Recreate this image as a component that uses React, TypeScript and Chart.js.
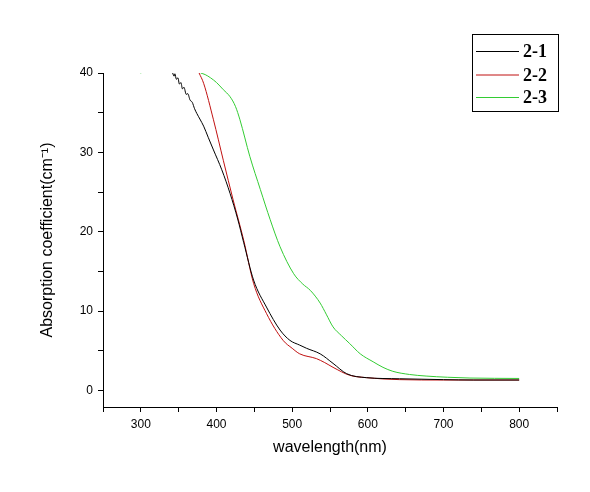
import React, { useEffect, useRef } from "react";
import { Chart, registerables } from "chart.js";

Chart.register(...registerables);

const seriesLabels = ["2-1", "2-2", "2-3"];
const seriesColors = ["#000000", "#c01010", "#33cc33"];

const wl21 = [342, 344, 345, 347, 349, 351, 353, 355, 357, 360, 362, 365, 368, 371, 374, 378, 383, 389, 396, 407, 418, 428, 436, 449, 466, 484, 497, 510, 519, 537, 554, 572, 598, 642, 700, 740, 800];
const ab21 = [40, 39.6, 39.9, 39.2, 39.4, 38.6, 38.8, 38.0, 38.2, 37.3, 37.4, 36.6, 36.3, 35.5, 34.9, 34.2, 33.3, 31.9, 30.3, 27.8, 24.8, 21.6, 18.6, 13.9, 10.5, 7.6, 6.3, 5.7, 5.3, 4.6, 3.4, 2.1, 1.6, 1.46, 1.35, 1.3, 1.3];

const wl22 = [377, 383, 396, 409, 422, 436, 449, 466, 488, 500, 510, 532, 543, 554, 576, 598, 642, 700, 800];
const ab22 = [40, 38.7, 34.1, 29.0, 24.0, 18.9, 13.5, 9.7, 6.3, 5.3, 4.6, 4.0, 3.5, 2.9, 1.9, 1.6, 1.35, 1.3, 1.3];

const wl23 = [299.5, 300.5, 302, 379, 385, 392, 400, 409, 418, 425, 431, 444, 458, 471, 484, 502, 514, 524, 537, 545, 554, 565, 576, 590, 607, 620, 633, 655, 677, 705, 735, 800];
const ab23 = [40, 40, null, 40, 39.8, 39.4, 38.8, 37.9, 37.0, 35.8, 34.1, 29.5, 25.3, 21.5, 18.1, 14.7, 13.4, 12.6, 11.0, 9.6, 8.0, 6.9, 5.9, 4.6, 3.6, 2.9, 2.4, 2.0, 1.8, 1.65, 1.55, 1.5];

const xTicks = [250, 300, 350, 400, 450, 500, 550, 600, 650, 700, 750, 800, 850];
const yTicks = [0, 5, 10, 15, 20, 25, 30, 35, 40];

const xTitle = "wavelength(nm)";
const yTitle = "Absorption coefficient(cm\u207B\u00B9)";

function pts(xs: number[], ys: (number | null)[]) {
  return xs.map((x, i) => ({ x, y: ys[i] }));
}

const legendPlugin = {
  id: "boxLegend",
  afterDraw(chart: any) {
    const ctx = chart.ctx;
    ctx.save();
    ctx.strokeStyle = "#000";
    ctx.lineWidth = 1;
    ctx.strokeRect(472.5, 34.5, 86, 77);
    const rows = [51.5, 75, 97.5];
    ctx.font = "bold 18px 'Liberation Serif', 'Times New Roman', serif";
    ctx.textBaseline = "middle";
    ctx.textAlign = "left";
    rows.forEach((y, i) => {
      ctx.strokeStyle = seriesColors[i];
      ctx.beginPath();
      ctx.moveTo(476, y);
      ctx.lineTo(519, y);
      ctx.stroke();
      ctx.fillStyle = "#000";
      ctx.fillText(seriesLabels[i], 523, y + 1);
    });
    ctx.restore();
  },
};

export default function App() {
  const ref = useRef<HTMLCanvasElement>(null);
  useEffect(() => {
    if (!ref.current) return;
    const tickFont = { family: "'Liberation Sans', Arial, sans-serif", size: 12 };
    const titleFont = { family: "'Liberation Sans', Arial, sans-serif", size: 16 };
    const chart = new Chart(ref.current, {
      type: "line",
      data: {
        datasets: [
          { label: seriesLabels[0], data: pts(wl21, ab21), borderColor: seriesColors[0] },
          { label: seriesLabels[1], data: pts(wl22, ab22), borderColor: seriesColors[1] },
          { label: seriesLabels[2], data: pts(wl23, ab23), borderColor: seriesColors[2] },
        ].map((d) => ({ ...d, borderWidth: 1, pointRadius: 0, cubicInterpolationMode: "monotone", fill: false, spanGaps: false })) as any,
      },
      options: {
        animation: false,
        responsive: false,
        devicePixelRatio: 1,
        events: [],
        layout: { padding: { top: 73, right: 33, left: 0, bottom: 0 } },
        plugins: { legend: { display: false }, tooltip: { enabled: false } },
        scales: {
          x: {
            type: "linear",
            min: 250,
            max: 850,
            afterBuildTicks: (s: any) => { s.ticks = xTicks.map((v) => ({ value: v })); },
            afterFit: (s: any) => { s.height = 85; },
            ticks: {
              autoSkip: false,
              maxRotation: 0,
              padding: 5,
              color: "#000",
              font: tickFont,
              callback: (v: any) => (Number(v) % 100 === 0 ? String(v) : ""),
            },
            grid: { drawOnChartArea: false, drawTicks: true, tickLength: 5, color: "#000" },
            border: { display: true, color: "#000", width: 1 },
            title: { display: true, text: xTitle, color: "#000", font: titleFont, padding: { top: 0, bottom: 35 } },
          },
          y: {
            type: "linear",
            min: -2.1,
            max: 40,
            afterBuildTicks: (s: any) => { s.ticks = yTicks.map((v) => ({ value: v })); },
            afterFit: (s: any) => { s.width = 103; },
            ticks: {
              autoSkip: false,
              padding: 5,
              color: "#000",
              font: tickFont,
              callback: (v: any) => (Number(v) % 10 === 0 ? String(v) : ""),
            },
            grid: { drawOnChartArea: false, drawTicks: true, tickLength: 5, color: "#000" },
            border: { display: true, color: "#000", width: 1 },
            title: { display: true, text: yTitle, color: "#000", font: titleFont, padding: { top: 38, bottom: 0 } },
          },
        },
      },
      plugins: [legendPlugin],
    });
    return () => chart.destroy();
  }, []);
  return (
    <div style={{ position: "absolute", left: 0, top: 0, width: 590, height: 492, background: "#fff" }}>
      <canvas ref={ref} width={590} height={492} style={{ display: "block", width: 590, height: 492 }} />
    </div>
  );
}
